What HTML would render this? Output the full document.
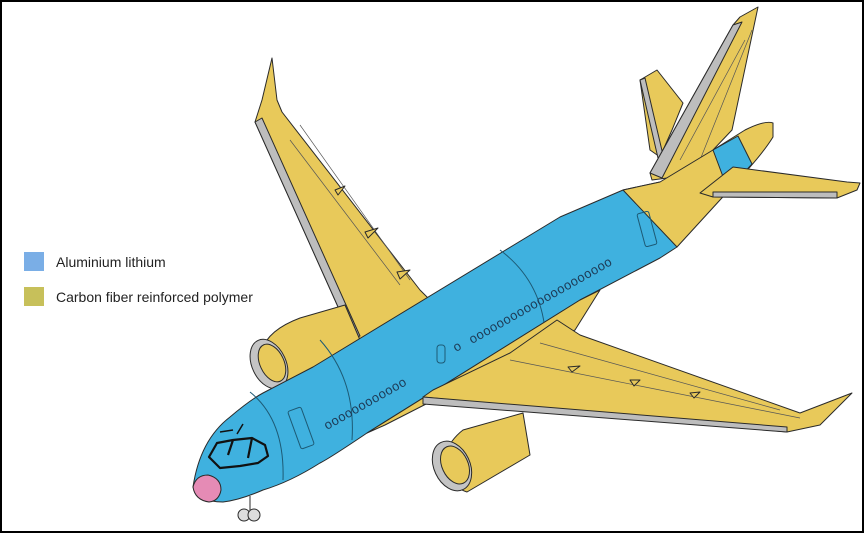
<!DOCTYPE html>
<html><head><style>
body{margin:0;background:#fff;}
.wrap{position:relative;width:864px;height:533px;box-sizing:border-box;border:2px solid #000;overflow:hidden;background:#fff;}
.leg{position:absolute;left:22px;font-family:"Liberation Sans",sans-serif;font-size:14px;color:#222;display:flex;align-items:center;}
.sw{width:20px;height:19px;margin-right:12px;}
</style></head><body><div class="wrap">
<svg width="864" height="533" style="position:absolute;left:-2px;top:-2px" stroke="#2a2a2a" stroke-width="1" stroke-linejoin="round">
<!-- far wing -->
<polygon points="352,338 255,122 262,100 272,58 277,100 282,112 420,290 430,300 360,340" fill="#e8c95a"/>
<polygon points="255,122 352,338 360,336 262,118" fill="#bdbdbd"/>
<path d="M290,140 L400,285 M300,125 L410,280" fill="none" stroke="#555" stroke-width="0.7"/>
<polygon points="335,190 345,186 338,195" fill="#e8c95a"/>
<polygon points="365,232 378,228 368,238" fill="#e8c95a"/>
<polygon points="397,272 410,270 400,279" fill="#e8c95a"/>
<!-- far horizontal stab -->
<polygon points="640,80 657,70 683,103 672,130 660,157 650,150" fill="#e8c95a"/>
<polygon points="640,80 645,78 663,155 658,158" fill="#bdbdbd"/>
<!-- far engine -->
<path d="M262,350 Q268,330 300,318 L345,305 L360,340 L290,392 Q262,385 262,350Z" fill="#e8c95a"/>
<ellipse cx="269" cy="364" rx="17" ry="26" transform="rotate(-25 269 364)" fill="#c4c4c4"/>
<ellipse cx="272" cy="363" rx="12" ry="20" transform="rotate(-25 272 363)" fill="#e8c95a"/>
<!-- vertical stab -->
<polygon points="652,180 650,173 733,25 740,17 758,7 732,130 713,150 690,175" fill="#e8c95a"/>
<polygon points="650,173 733,25 742,22 662,178" fill="#bdbdbd"/>
<path d="M680,160 L745,40 M700,160 L752,30" fill="none" stroke="#555" stroke-width="0.7"/>
<!-- fuselage -->
<path d="M193,487 Q200,440 230,417 Q250,400 263,393 L313,367 L560,217 L623,190 L660,182 L677,247 L660,258 L580,300 L367,433 Q330,458 320,463 Q290,482 263,490 Q240,500 223,502 Q198,502 193,487Z" fill="#3fb1df"/>
<!-- tail section -->
<path d="M623,190 L660,182 L713,150 L745,130 Q765,120 773,123 L773,137 Q765,150 750,167 L720,200 L677,247Z" fill="#e8c95a"/>
<path d="M713,150 L738,136 L752,164 L728,190 Z" fill="#3fb1df"/>
<!-- nose -->
<path d="M193,487 Q196,475 208,475 Q221,478 221,490 Q219,501 209,502 Q195,500 193,487Z" fill="#e58bb5"/>
<path d="M209,457 L217,443 L233,440 L252,438 L265,445 L268,456 L258,463 L240,466 L220,468 Z M233,440 L228,455 M252,438 L248,458" fill="none" stroke="#111" stroke-width="2.2"/>
<path d="M220,432 L233,430 M237,434 L243,424" fill="none" stroke="#111" stroke-width="1.5"/>
<path d="M250,392 Q285,420 283,480 M320,340 Q356,380 352,440 M500,250 Q540,280 545,330" fill="none" stroke="#1d5a75" stroke-width="1"/>
<rect x="294" y="408" width="14" height="40" rx="2" transform="rotate(-20 301 428)" fill="none" stroke="#1d5a75"/>
<rect x="437" y="345" width="8" height="18" rx="3" fill="none" stroke="#1d5a75"/>
<rect x="641" y="212" width="12" height="34" rx="2" transform="rotate(-15 647 229)" fill="none" stroke="#1d5a75"/>
<!-- belly fairing -->
<path d="M367,433 L580,300 L600,290 L575,330 L430,402 L385,425Z" fill="#e8c95a"/>
<!-- near horizontal stab -->
<polygon points="700,193 733,167 847,182 860,183 857,190 837,198 713,197" fill="#e8c95a"/>
<polygon points="713,192 837,192 837,198 713,197" fill="#bdbdbd"/>
<!-- near wing -->
<polygon points="423,397 433,390 510,353 557,320 580,335 800,413 852,393 820,425 787,432" fill="#e8c95a"/>
<polygon points="423,397 787,427 787,432 423,404" fill="#bdbdbd"/>
<path d="M510,360 L800,418 M540,343 L780,410" fill="none" stroke="#555" stroke-width="0.7"/>
<polygon points="568,367 580,366 572,372" fill="#e8c95a"/>
<polygon points="630,380 640,380 634,386" fill="#e8c95a"/>
<polygon points="690,393 700,392 694,398" fill="#e8c95a"/>
<!-- near engine -->
<path d="M445,455 Q450,440 463,430 L523,413 L530,455 L467,492 Q445,485 445,455Z" fill="#e8c95a"/>
<ellipse cx="452" cy="466" rx="18" ry="26" transform="rotate(-25 452 466)" fill="#c4c4c4"/>
<ellipse cx="455" cy="465" rx="13" ry="20" transform="rotate(-25 455 465)" fill="#e8c95a"/>
<!-- windows -->
<text x="327" y="430" font-family="Liberation Sans" font-size="13" fill="#1d3a55" stroke="none" transform="rotate(-29.5 327 430)" letter-spacing="0.5">oooooooooooo</text>
<text x="456" y="352" font-family="Liberation Sans" font-size="13" fill="#1d3a55" stroke="none" transform="rotate(-29.5 456 352)" letter-spacing="0.5">o</text>
<text x="472" y="344" font-family="Liberation Sans" font-size="13" fill="#1d3a55" stroke="none" transform="rotate(-29.5 472 344)" letter-spacing="0.5">ooooooooooooooooooooo</text>
<!-- gear -->
<line x1="250" y1="496" x2="250" y2="510"/>
<circle cx="244" cy="515" r="6" fill="#ddd"/><circle cx="254" cy="515" r="6" fill="#ddd"/>
</svg>
<div class="leg" style="top:250px"><div class="sw" style="background:#7aaee6"></div>Aluminium lithium</div>
<div class="leg" style="top:285px"><div class="sw" style="background:#c7c05a"></div>Carbon fiber reinforced polymer</div>
</div></body></html>
